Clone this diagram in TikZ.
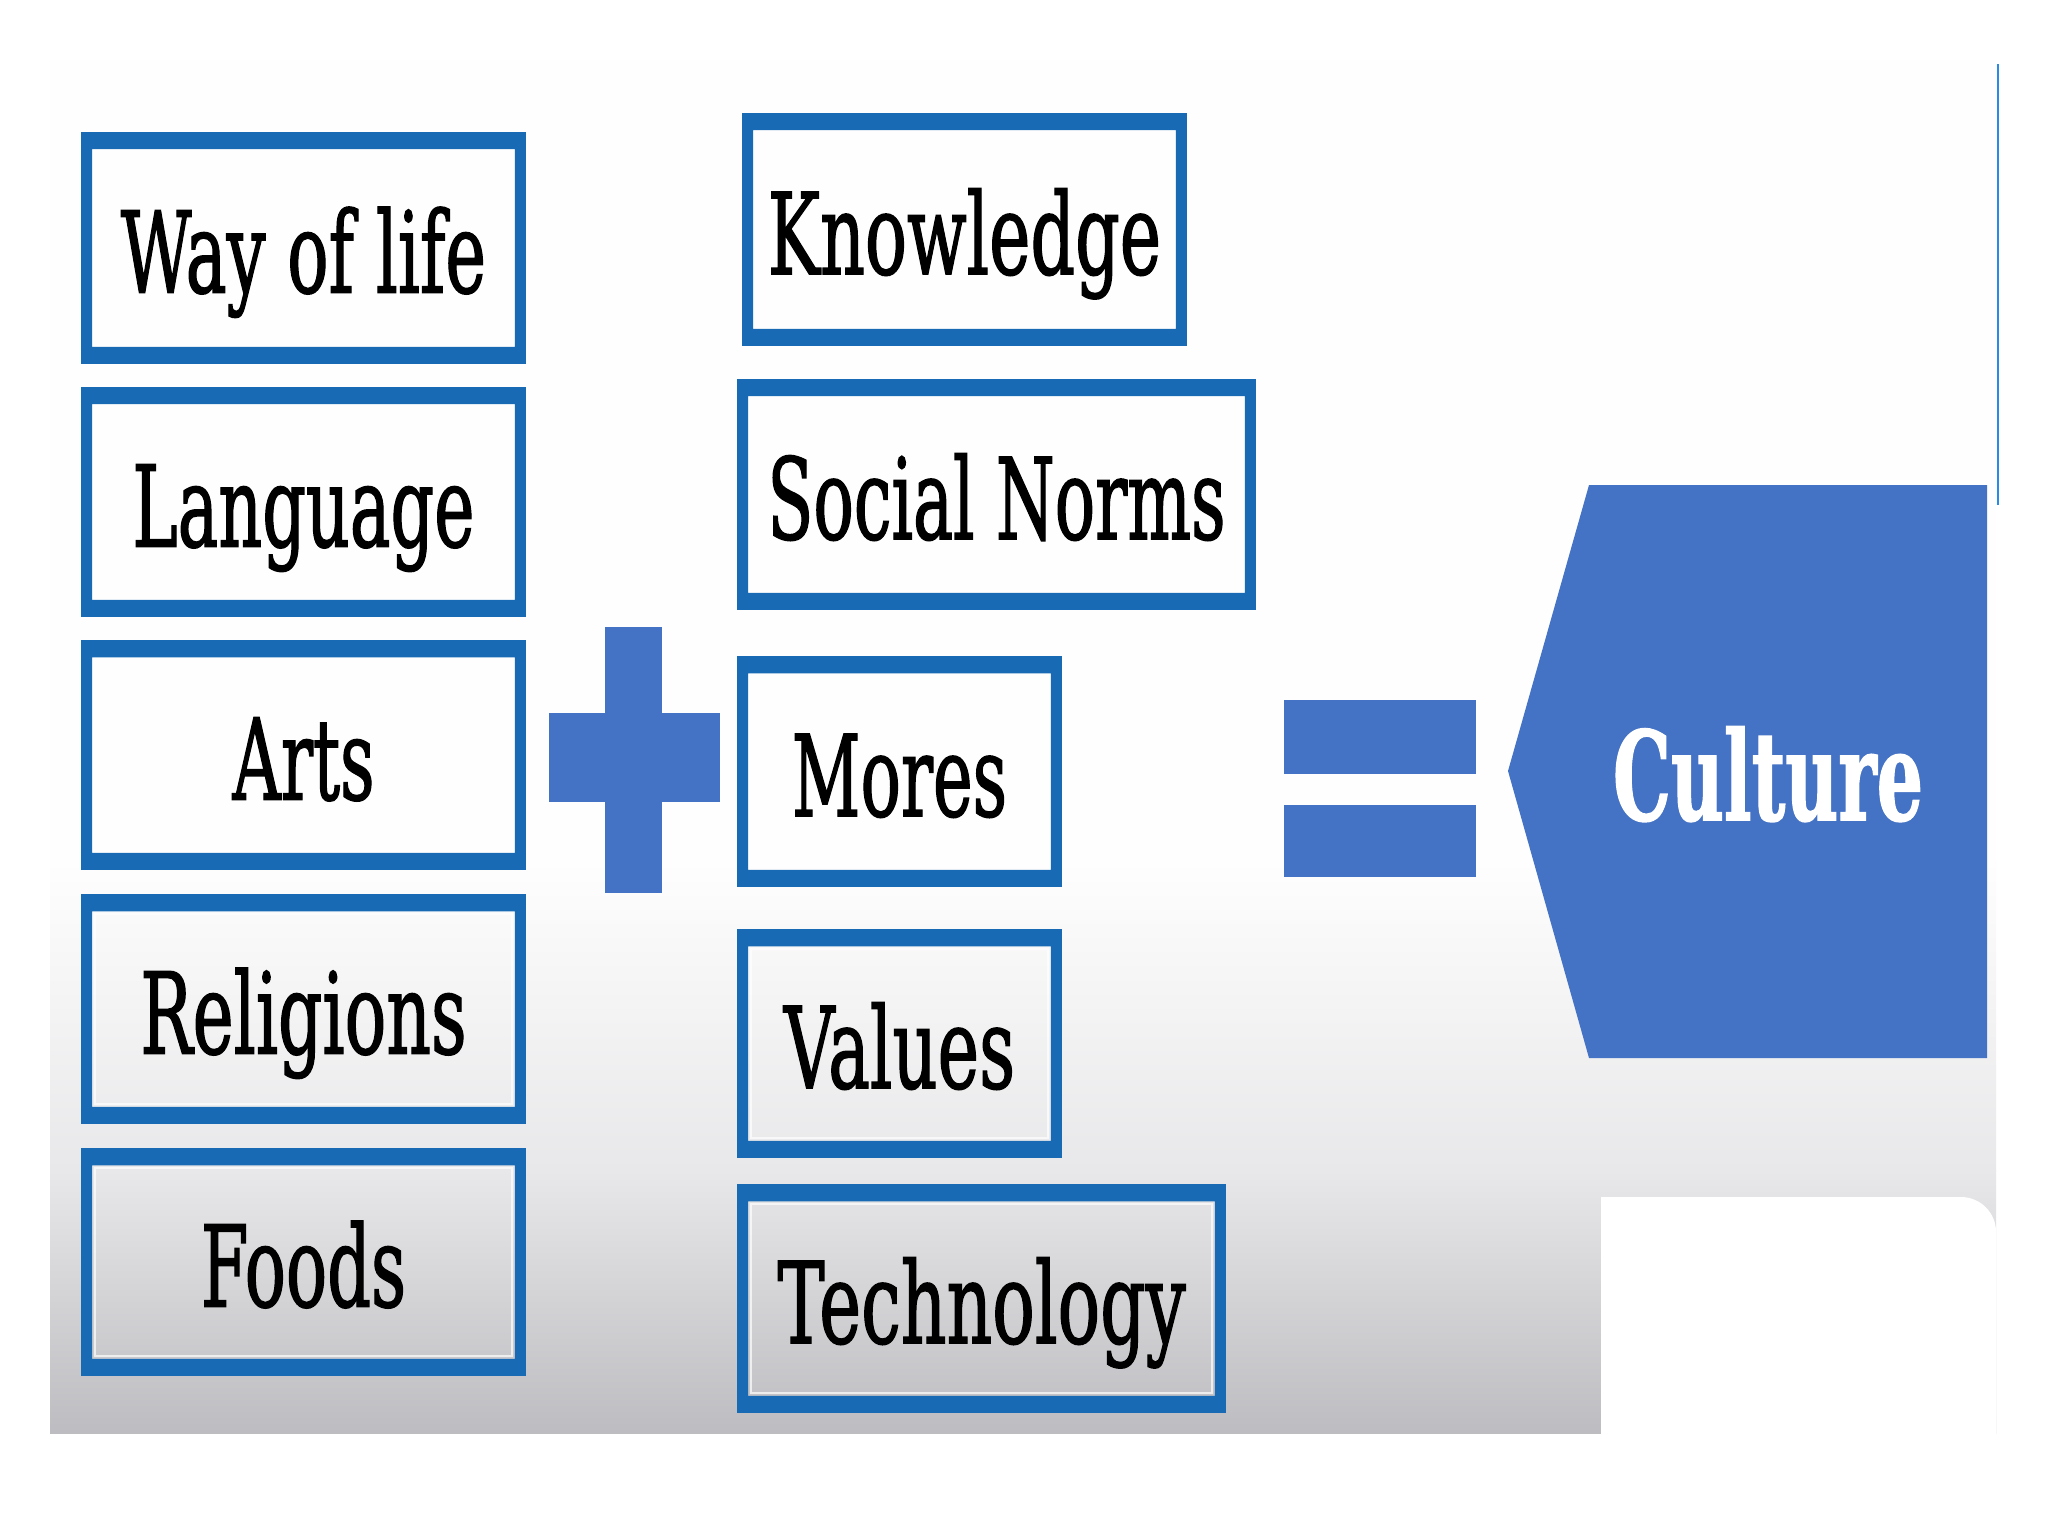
\documentclass[tikz,border=0pt]{standalone}
\usepackage{fontspec}
\setmainfont{DejaVu Serif}
\newfontfamily\itemfont{DejaVu Serif}[FakeBold=1.6]
\newfontfamily\culturefont{DejaVu Serif Bold}[FakeBold=1.5]
\usepackage{graphicx}
\definecolor{boxblue}{RGB}{24,106,180}
\definecolor{shapeblue}{RGB}{68,114,196}
\definecolor{linecol}{RGB}{40,140,230}
\definecolor{panelwhite}{RGB}{254,254,254}
\definecolor{grayA}{RGB}{232,232,234}
\definecolor{grayB}{RGB}{189,189,193}
\newcommand\fitw[2]{\resizebox{#1}{\height}{#2}}
\tikzset{
  itembox/.style={rectangle, inner sep=0pt, text height=0.89cm, text depth=0cm,
    font=\itemfont\fontsize{32}{36}\selectfont, text=black},
  blueshape/.style={fill=shapeblue},
}
\begin{document}
\begin{tikzpicture}[x=0.01cm, y=-0.01cm]
% page
\fill[white] (0,0) rectangle (2048,1536);
\useasboundingbox (0,0) rectangle (2048,1536);
% panel background
\fill[panelwhite] (50,60) rectangle (1996,861);
\shade[top color=panelwhite, bottom color=grayA] (50,860) rectangle (1996,1171);
\shade[top color=grayA, bottom color=grayB] (50,1170) rectangle (1996,1433);
\fill[white] (1601,1440) -- (1601,1197) -- (1961,1197)
  arc[start angle=90, end angle=0, radius=0.35cm] -- (1996,1440) -- cycle;
\draw[linecol, line width=0.7pt] (1998,64) -- (1998,505);

% left column
\node[itembox, minimum width=4.43cm, minimum height=2.30cm] (way)   at (303.5,248)  {\fitw{3.65cm}{Way of life}};
\node[itembox, minimum width=4.43cm, minimum height=2.28cm] (lang)  at (303.5,502)  {\fitw{3.42cm}{Language}};
\node[itembox, minimum width=4.43cm, minimum height=2.28cm] (arts)  at (303.5,755)  {\fitw{1.42cm}{Arts}};
\node[itembox, minimum width=4.43cm, minimum height=2.28cm] (rel)   at (303.5,1009) {\fitw{3.26cm}{Religions}};
\node[itembox, minimum width=4.43cm, minimum height=2.26cm] (foods) at (303.5,1262) {\fitw{2.05cm}{Foods}};
% middle column
\node[itembox, minimum width=4.43cm, minimum height=2.31cm] (know)   at (964.5,229.5)  {\fitw{3.93cm}{Knowledge}};
\node[itembox, minimum width=5.17cm, minimum height=2.29cm] (social) at (996.5,494.5)  {\fitw{4.58cm}{Social Norms}};
\node[itembox, minimum width=3.23cm, minimum height=2.29cm] (mores)  at (899.5,771.5)  {\fitw{2.15cm}{Mores}};
\node[itembox, minimum width=3.23cm, minimum height=2.27cm] (values) at (899.5,1043.5) {\fitw{2.31cm}{Values}};
\node[itembox, minimum width=4.87cm, minimum height=2.27cm] (tech)   at (981.5,1298.5) {\fitw{4.08cm}{Technology}};

% thick blue frames
\foreach \n in {way,lang,arts,rel,foods,know,social,mores,values,tech}{
  \fill[boxblue, even odd rule]
    (\n.north west) rectangle (\n.south east)
    ([xshift=0.11cm,yshift=-0.17cm]\n.north west) rectangle ([xshift=-0.11cm,yshift=0.17cm]\n.south east);
  \draw[white, opacity=0.7, line width=0.45pt]
    ([xshift=0.14cm,yshift=-0.20cm]\n.north west) rectangle ([xshift=-0.14cm,yshift=0.20cm]\n.south east);
}

% plus sign
\fill[blueshape] (605,627) rectangle (662,893);
\fill[blueshape] (549,713) rectangle (720,802);
% equals sign
\fill[blueshape] (1284,700) rectangle (1476,774);
\fill[blueshape] (1284,805) rectangle (1476,877);
% culture shape
\fill[blueshape] (1589,485) -- (1987,485) -- (1987,1058) -- (1589,1058) -- (1508,771) -- cycle;
\node[anchor=base, inner sep=0pt, text=white, font=\culturefont\fontsize{35}{40}\selectfont] (culture) at (1768,820) {\fitw{3.10cm}{Culture}};
\end{tikzpicture}
\end{document}
